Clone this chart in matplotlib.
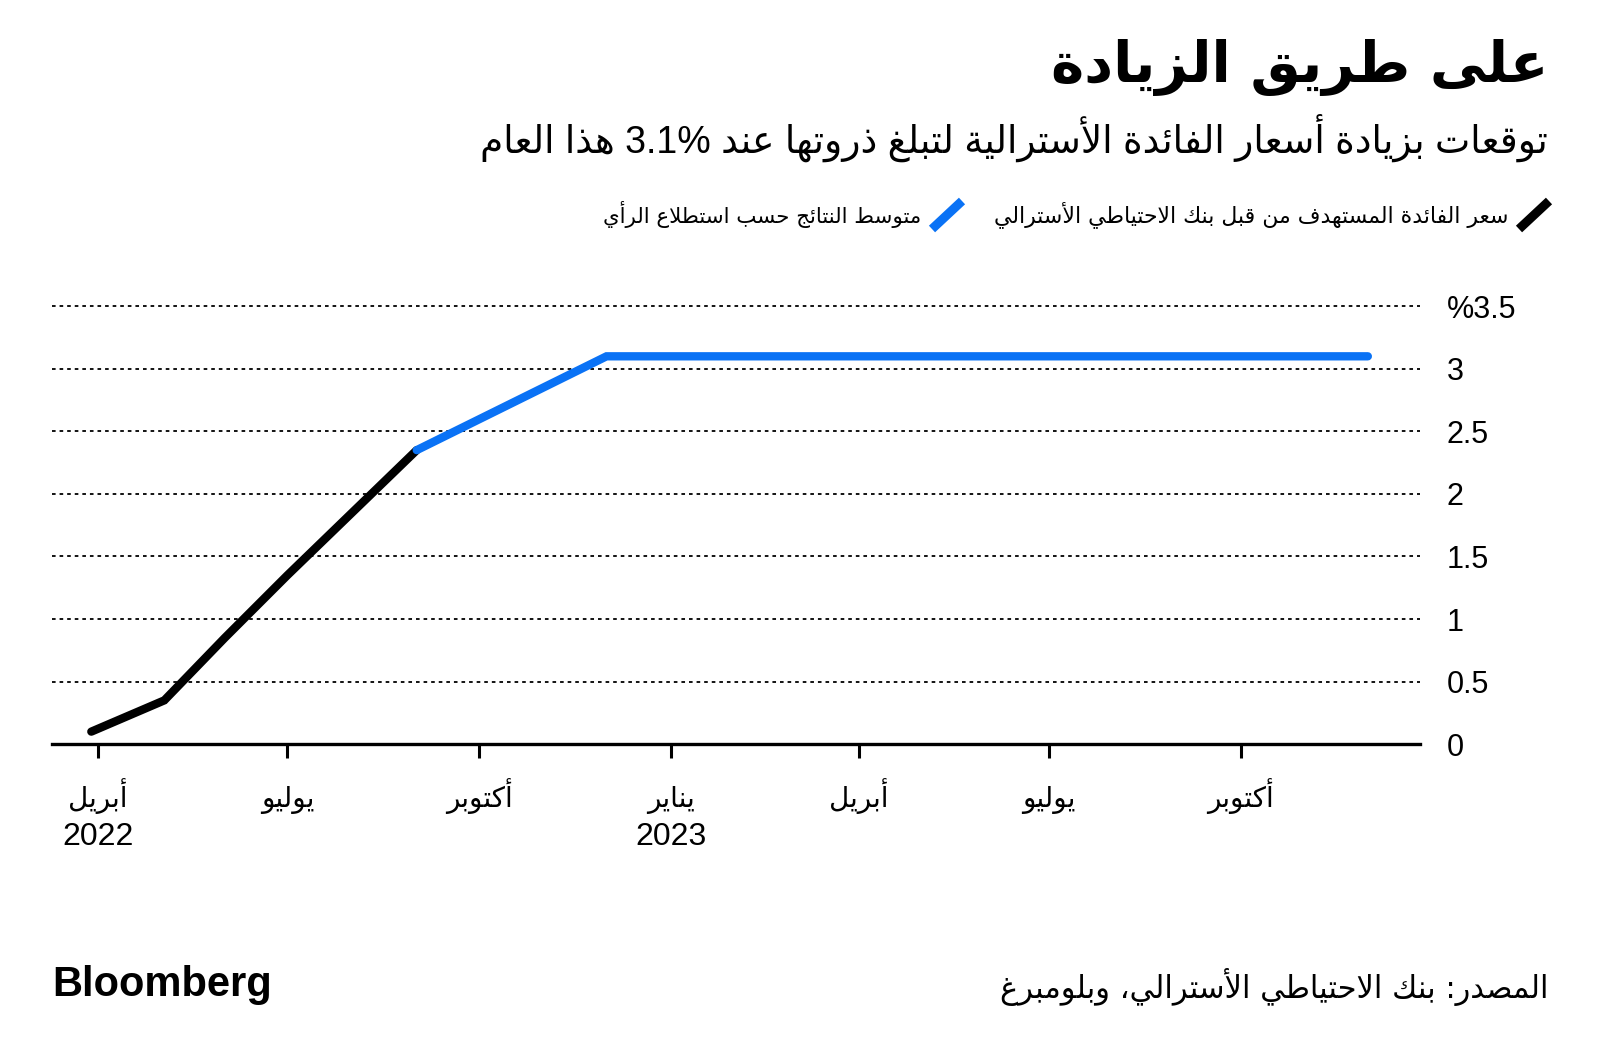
import matplotlib
matplotlib.use("Agg")
import matplotlib.pyplot as plt
import numpy as np
from matplotlib.lines import Line2D

# --- data ---
rba_dates = np.array(["2022-03-29", "2022-05-03", "2022-06-01", "2022-07-01",
                      "2022-08-01", "2022-09-01"], dtype="datetime64[D]")
rba_rate = [0.1, 0.35, 0.85, 1.35, 1.85, 2.35]

survey_dates = np.array(["2022-09-01", "2022-12-01", "2023-03-01", "2023-06-01",
                         "2023-09-01", "2023-12-01"], dtype="datetime64[D]")
survey_rate = [2.35, 3.1, 3.1, 3.1, 3.1, 3.1]

tick_dates = np.array(["2022-04-01", "2022-07-01", "2022-10-01", "2023-01-01",
                       "2023-04-01", "2023-07-01", "2023-10-01"], dtype="datetime64[D]")
tick_months = ["أبريل", "يوليو", "أكتوبر", "يناير", "أبريل", "يوليو", "أكتوبر"]
tick_years = ["2022", "", "", "2023", "", "", ""]
y_ticks = [0, 0.5, 1, 1.5, 2, 2.5, 3, 3.5]
y_labels = ["0", "0.5", "1", "1.5", "2", "2.5", "3", "%3.5"]

title = "على طريق الزيادة"
subtitle = "توقعات بزيادة أسعار الفائدة الأسترالية لتبلغ ذروتها عند 3.1% هذا العام"
leg_rba = "سعر الفائدة المستهدف من قبل بنك الاحتياطي الأسترالي"
leg_survey = "متوسط النتائج حسب استطلاع الرأي"
source = "المصدر: بنك الاحتياطي الأسترالي، وبلومبرغ"

BLUE = "#0a72f5"

# --- tiny arabic shaper (no arabic_reshaper / bidi available) ---
_AR = {0x0621: (0xFE80, 1), 0x0622: (0xFE81, 2), 0x0623: (0xFE83, 2), 0x0624: (0xFE85, 2),
       0x0625: (0xFE87, 2), 0x0626: (0xFE89, 4), 0x0627: (0xFE8D, 2), 0x0628: (0xFE8F, 4),
       0x0629: (0xFE93, 2), 0x062A: (0xFE95, 4), 0x062B: (0xFE99, 4), 0x062C: (0xFE9D, 4),
       0x062D: (0xFEA1, 4), 0x062E: (0xFEA5, 4), 0x062F: (0xFEA9, 2), 0x0630: (0xFEAB, 2),
       0x0631: (0xFEAD, 2), 0x0632: (0xFEAF, 2), 0x0633: (0xFEB1, 4), 0x0634: (0xFEB5, 4),
       0x0635: (0xFEB9, 4), 0x0636: (0xFEBD, 4), 0x0637: (0xFEC1, 4), 0x0638: (0xFEC5, 4),
       0x0639: (0xFEC9, 4), 0x063A: (0xFECD, 4), 0x0641: (0xFED1, 4), 0x0642: (0xFED5, 4),
       0x0643: (0xFED9, 4), 0x0644: (0xFEDD, 4), 0x0645: (0xFEE1, 4), 0x0646: (0xFEE5, 4),
       0x0647: (0xFEE9, 4), 0x0648: (0xFEED, 2), 0x0649: (0xFEEF, 2), 0x064A: (0xFEF1, 4)}
_LAMALEF = {0x0622: 0xFEF5, 0x0623: 0xFEF7, 0x0625: 0xFEF9, 0x0627: 0xFEFB}


def _shape_line(s):
    out = []
    prev_dual = False
    i, n = 0, len(s)
    while i < n:
        o = ord(s[i])
        if o not in _AR:
            out.append(s[i])
            prev_dual = False
            i += 1
            continue
        nxt = ord(s[i + 1]) if i + 1 < n else None
        if o == 0x0644 and nxt in _LAMALEF:
            out.append(chr(_LAMALEF[nxt] + (1 if prev_dual else 0)))
            prev_dual = False
            i += 2
            continue
        base, cnt = _AR[o]
        to_next = cnt == 4 and nxt in _AR and _AR[nxt][1] > 1
        if cnt == 1:
            f = 0
        elif prev_dual and to_next:
            f = 3
        elif prev_dual:
            f = 1
        elif to_next:
            f = 2
        else:
            f = 0
        out.append(chr(base + f))
        prev_dual = cnt == 4
        i += 1
    # visual order: reverse, keeping latin/digit runs left-to-right
    toks = []
    for c in out:
        ltr = c.isascii() and (c.isalnum() or c in ".%")
        if ltr and toks and toks[-1][0]:
            toks[-1][1] += c
        else:
            toks.append([ltr, c])
    return "".join(t[1] for t in reversed(toks))


def ar(s):
    return "\n".join(_shape_line(line) for line in s.split("\n"))


AR_FONT = ["DejaVu Sans"]
NUM_FONT = ["Liberation Sans", "DejaVu Sans"]

fig = plt.figure(figsize=(16, 10.62), dpi=100)
ax = fig.add_axes([0.0323, 0.2993, 0.8552, 0.4182])

ax.plot(rba_dates, rba_rate, color="black", lw=6, solid_capstyle="round",
        solid_joinstyle="miter", zorder=3)
ax.plot(survey_dates, survey_rate, color=BLUE, lw=6, solid_capstyle="round",
        solid_joinstyle="miter", zorder=4)

ax.set_ylim(0, 3.55)
ax.set_xlim(np.datetime64("2022-03-10"), np.datetime64("2023-12-26"))

for s in ["top", "left", "right"]:
    ax.spines[s].set_visible(False)
ax.spines["bottom"].set_linewidth(2.4)
ax.spines["bottom"].set_zorder(5)

ax.yaxis.tick_right()
ax.set_yticks(y_ticks)
ax.set_yticklabels(y_labels, family=NUM_FONT, fontsize=22)
ax.tick_params(axis="y", length=0, pad=19)
ax.yaxis.grid(True, color="black", lw=1.3, linestyle=(0, (2, 2.2)))

# x ticks: marks from the axis, labels drawn as two separate text rows
ax.set_xticks(tick_dates)
ax.set_xticklabels([])
ax.tick_params(axis="x", length=10, width=2.2, direction="out")
xt = ax.get_xaxis_transform()
for d, m, y in zip(tick_dates, tick_months, tick_years):
    ax.text(d, -0.141, ar(m), transform=xt, ha="center", va="baseline",
            fontsize=20, family=AR_FONT)
    if y:
        ax.text(d, -0.227, y, transform=xt, ha="center", va="baseline",
                fontsize=23, family=NUM_FONT)

# header
fig.text(1548 / 1600, 1 - 68 / 1062, ar(title), ha="right", va="center",
         fontsize=40.5, weight="bold", family=AR_FONT)
fig.text(1548 / 1600, 1 - 138 / 1062, ar(subtitle), ha="right", va="center",
         fontsize=27, family=NUM_FONT)

# legend
fig.add_artist(Line2D([1519 / 1600, 1549 / 1600], [1 - 229 / 1062, 1 - 201 / 1062],
                      color="black", lw=6.5, solid_capstyle="butt"))
fig.text(1508 / 1600, 1 - 215 / 1062, ar(leg_rba), ha="right", va="center",
         fontsize=15.8, family=AR_FONT)
fig.add_artist(Line2D([932 / 1600, 962 / 1600], [1 - 229 / 1062, 1 - 201 / 1062],
                      color=BLUE, lw=6.5, solid_capstyle="butt"))
fig.text(921 / 1600, 1 - 215 / 1062, ar(leg_survey), ha="right", va="center",
         fontsize=15.4, family=AR_FONT)

# footer
fig.text(1548 / 1600, 1 - 987 / 1062, ar(source), ha="right", va="center",
         fontsize=22, family=AR_FONT)
fig.text(52 / 1600, 1 - 985 / 1062, "Bloomberg", ha="left", va="center",
         fontsize=30, weight="bold", family=["Liberation Sans"])

fig.savefig("out.png", dpi=100, facecolor="white")
